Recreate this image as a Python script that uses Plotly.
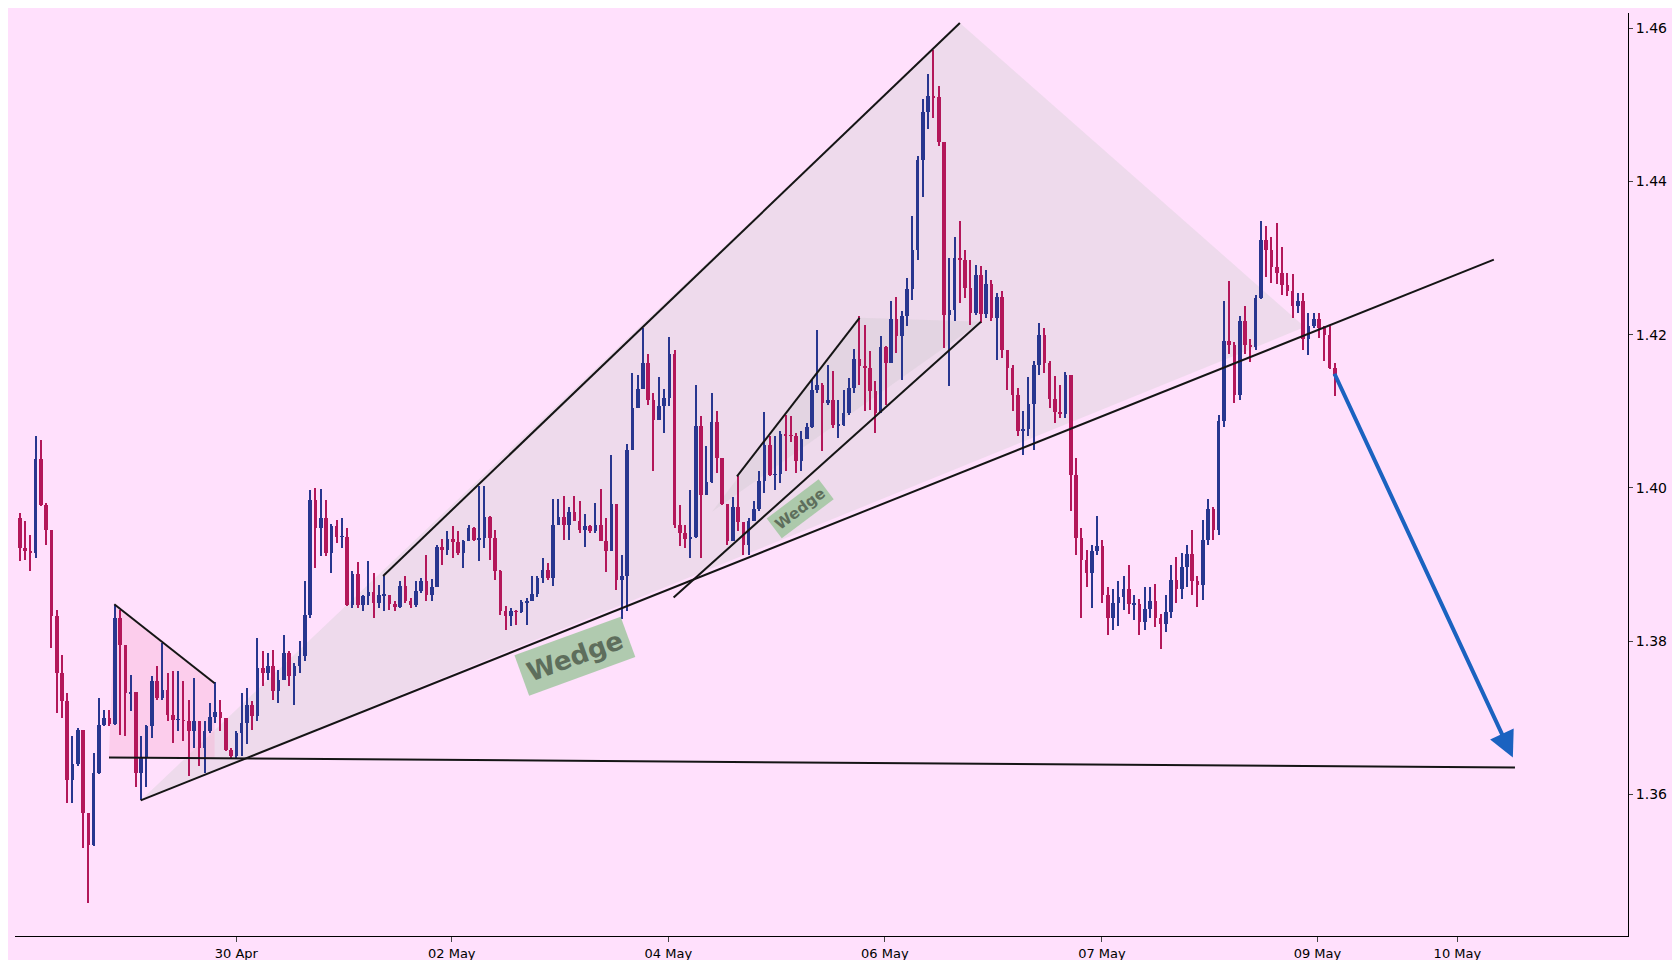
import plotly.graph_objects as go

# ------- candle data (one entry per bar) -------
first_open = 1.3961
closes = [
    1.3922, 1.3918, 1.3915, 1.4038, 1.3978, 1.3945, 1.3833, 1.3759, 1.3722, 1.3619,
    1.3639, 1.3684, 1.3576, 1.3534, 1.3628, 1.3691, 1.3700, 1.3692, 1.3830, 1.3795,
    1.3732, 1.3734, 1.3628, 1.3648, 1.3689, 1.3748, 1.3726, 1.3736, 1.3704, 1.3697,
    1.3697, 1.3696, 1.3683, 1.3696, 1.3661, 1.3683, 1.3701, 1.3708, 1.3700, 1.3658,
    1.3650, 1.3680, 1.3693, 1.3716, 1.3702, 1.3765, 1.3759, 1.3768, 1.3735, 1.3749,
    1.3785, 1.3755, 1.3768, 1.3781, 1.3834, 1.3984, 1.3948, 1.3961, 1.3915, 1.3950,
    1.3936, 1.3936, 1.3847, 1.3888, 1.3847, 1.3859, 1.3864, 1.3850, 1.3860, 1.3860,
    1.3849, 1.3845, 1.3872, 1.3853, 1.3847, 1.3866, 1.3879, 1.3860, 1.3871, 1.3923,
    1.3919, 1.3933, 1.3930, 1.3915, 1.3931, 1.3948, 1.3932, 1.3935, 1.3962, 1.3935,
    1.3892, 1.3839, 1.3833, 1.3839, 1.3838, 1.3851, 1.3853, 1.3862, 1.3883, 1.3893,
    1.3883, 1.3952, 1.3962, 1.3952, 1.3969, 1.3957, 1.3945, 1.3950, 1.3944, 1.3952,
    1.3931, 1.3918, 1.3979, 1.3880, 1.3885, 1.4050, 1.4104, 1.4129, 1.4163, 1.4115,
    1.4089, 1.4107, 1.4117, 1.4175, 1.3952, 1.3941, 1.3933, 1.3936, 1.4081, 1.3991,
    1.4008, 1.4086, 1.4039, 1.3979, 1.3931, 1.3975, 1.3956, 1.3926, 1.3957, 1.3973,
    1.4009, 1.4056, 1.4017, 1.4018, 1.4070, 1.4069, 1.4068, 1.4035, 1.4064, 1.4080,
    1.4128, 1.4134, 1.4111, 1.4115, 1.4082, 1.4082, 1.4098, 1.4131, 1.4168, 1.4159,
    1.4157, 1.4127, 1.4098, 1.4184, 1.4163, 1.4221, 1.4198, 1.4224, 1.4260, 1.4311,
    1.4428, 1.4491, 1.4512, 1.4510, 1.4452, 1.4226, 1.4232, 1.4300, 1.4298, 1.4261,
    1.4228, 1.4278, 1.4227, 1.4266, 1.4222, 1.4249, 1.4180, 1.4157, 1.4121, 1.4074,
    1.4077, 1.4110, 1.4161, 1.4200, 1.4163, 1.4116, 1.4099, 1.4097, 1.4147, 1.4017,
    1.3935, 1.3906, 1.3889, 1.3918, 1.3924, 1.3860, 1.3830, 1.3850, 1.3858, 1.3868,
    1.3848, 1.3848, 1.3825, 1.3842, 1.3852, 1.3830, 1.3822, 1.3838, 1.3880, 1.3868,
    1.3897, 1.3914, 1.3879, 1.3873, 1.3932, 1.3973, 1.3945, 1.4087, 1.4192, 1.4187,
    1.4121, 1.4218, 1.4187, 1.4184, 1.4248, 1.4324, 1.4310, 1.4289, 1.4281, 1.4265,
    1.4257, 1.4238, 1.4244, 1.4194, 1.4211, 1.4220, 1.4209, 1.4200, 1.4157, 1.4146,
]
highs = [
    1.3967, 1.3957, 1.3939, 1.4068, 1.4063, 1.3980, 1.3945, 1.3841, 1.3782, 1.3732,
    1.3676, 1.3687, 1.3683, 1.3576, 1.3654, 1.3726, 1.3710, 1.3710, 1.3847, 1.3841,
    1.3795, 1.3756, 1.3734, 1.3676, 1.3691, 1.3755, 1.3768, 1.3798, 1.3759, 1.3761,
    1.3761, 1.3748, 1.3723, 1.3752, 1.3696, 1.3696, 1.3719, 1.3746, 1.3723, 1.3700,
    1.3661, 1.3683, 1.3732, 1.3739, 1.3722, 1.3804, 1.3787, 1.3785, 1.3789, 1.3762,
    1.3808, 1.3787, 1.3771, 1.3800, 1.3879, 1.3997, 1.4000, 1.3999, 1.3984, 1.3953,
    1.3958, 1.3961, 1.3948, 1.3892, 1.3903, 1.3860, 1.3905, 1.3889, 1.3873, 1.3885,
    1.3860, 1.3853, 1.3879, 1.3885, 1.3856, 1.3879, 1.3883, 1.3913, 1.3881, 1.3926,
    1.3933, 1.3944, 1.3950, 1.3944, 1.3932, 1.3952, 1.3949, 1.4003, 1.4003, 1.3963,
    1.3945, 1.3893, 1.3846, 1.3843, 1.3841, 1.3854, 1.3856, 1.3885, 1.3885, 1.3909,
    1.3902, 1.3986, 1.3986, 1.3990, 1.3975, 1.3990, 1.3983, 1.3966, 1.3952, 1.3980,
    1.3999, 1.3961, 1.4043, 1.3979, 1.3913, 1.4057, 1.4150, 1.4147, 1.4209, 1.4175,
    1.4124, 1.4145, 1.4129, 1.4197, 1.4180, 1.3978, 1.3952, 1.3997, 1.4134, 1.4094,
    1.4055, 1.4124, 1.4100, 1.4039, 1.3979, 1.3988, 1.4016, 1.3956, 1.3961, 1.3983,
    1.4022, 1.4099, 1.4068, 1.4068, 1.4074, 1.4095, 1.4094, 1.4072, 1.4074, 1.4085,
    1.4141, 1.4206, 1.4137, 1.4161, 1.4153, 1.4115, 1.4128, 1.4144, 1.4181, 1.4224,
    1.4213, 1.4179, 1.4140, 1.4198, 1.4185, 1.4244, 1.4249, 1.4231, 1.4274, 1.4355,
    1.4433, 1.4508, 1.4540, 1.4572, 1.4525, 1.4452, 1.4300, 1.4328, 1.4348, 1.4311,
    1.4298, 1.4291, 1.4290, 1.4285, 1.4271, 1.4254, 1.4257, 1.4180, 1.4161, 1.4131,
    1.4100, 1.4145, 1.4166, 1.4215, 1.4209, 1.4166, 1.4146, 1.4134, 1.4151, 1.4147,
    1.4039, 1.3948, 1.3919, 1.3925, 1.3963, 1.3932, 1.3870, 1.3868, 1.3878, 1.3885,
    1.3900, 1.3860, 1.3855, 1.3870, 1.3870, 1.3875, 1.3835, 1.3860, 1.3900, 1.3910,
    1.3915, 1.3925, 1.3945, 1.3885, 1.3958, 1.3985, 1.3975, 1.4095, 1.4244, 1.4270,
    1.4190, 1.4225, 1.4238, 1.4195, 1.4252, 1.4349, 1.4342, 1.4327, 1.4346, 1.4314,
    1.4281, 1.4279, 1.4254, 1.4254, 1.4228, 1.4228, 1.4228, 1.4211, 1.4211, 1.4163,
]
lows = [
    1.3905, 1.3906, 1.3892, 1.3908, 1.3976, 1.3926, 1.3791, 1.3706, 1.3700, 1.3589,
    1.3589, 1.3637, 1.3530, 1.3458, 1.3533, 1.3626, 1.3689, 1.3689, 1.3691, 1.3678,
    1.3676, 1.3709, 1.3609, 1.3593, 1.3609, 1.3674, 1.3723, 1.3723, 1.3696, 1.3667,
    1.3683, 1.3670, 1.3624, 1.3661, 1.3637, 1.3628, 1.3680, 1.3693, 1.3683, 1.3657,
    1.3648, 1.3648, 1.3650, 1.3666, 1.3684, 1.3696, 1.3742, 1.3749, 1.3723, 1.3719,
    1.3749, 1.3742, 1.3716, 1.3759, 1.3774, 1.3830, 1.3896, 1.3911, 1.3911, 1.3889,
    1.3928, 1.3922, 1.3846, 1.3843, 1.3843, 1.3839, 1.3847, 1.3830, 1.3843, 1.3839,
    1.3841, 1.3839, 1.3843, 1.3850, 1.3843, 1.3845, 1.3863, 1.3853, 1.3853, 1.3871,
    1.3900, 1.3913, 1.3909, 1.3913, 1.3896, 1.3931, 1.3931, 1.3905, 1.3922, 1.3906,
    1.3880, 1.3834, 1.3815, 1.3820, 1.3821, 1.3837, 1.3821, 1.3853, 1.3858, 1.3876,
    1.3880, 1.3872, 1.3952, 1.3932, 1.3932, 1.3957, 1.3941, 1.3923, 1.3941, 1.3941,
    1.3931, 1.3890, 1.3918, 1.3867, 1.3829, 1.3839, 1.4050, 1.4104, 1.4129, 1.4108,
    1.4022, 1.4089, 1.4072, 1.4107, 1.3948, 1.3924, 1.3922, 1.3909, 1.3935, 1.3909,
    1.3991, 1.4007, 1.4020, 1.3978, 1.3926, 1.3931, 1.3944, 1.3913, 1.3913, 1.3957,
    1.3970, 1.3993, 1.4016, 1.3997, 1.4007, 1.4022, 1.4060, 1.4020, 1.4022, 1.4065,
    1.4078, 1.4124, 1.4048, 1.4108, 1.4078, 1.4065, 1.4081, 1.4095, 1.4124, 1.4134,
    1.4100, 1.4102, 1.4072, 1.4111, 1.4108, 1.4163, 1.4176, 1.4141, 1.4211, 1.4245,
    1.4298, 1.4380, 1.4468, 1.4483, 1.4446, 1.4183, 1.4133, 1.4218, 1.4241, 1.4248,
    1.4213, 1.4226, 1.4215, 1.4222, 1.4218, 1.4167, 1.4170, 1.4128, 1.4100, 1.4068,
    1.4043, 1.4068, 1.4050, 1.4147, 1.4150, 1.4104, 1.4085, 1.4091, 1.4091, 1.3970,
    1.3913, 1.3830, 1.3870, 1.3843, 1.3913, 1.3850, 1.3808, 1.3815, 1.3820, 1.3840,
    1.3835, 1.3828, 1.3808, 1.3815, 1.3830, 1.3818, 1.3790, 1.3812, 1.3830, 1.3850,
    1.3855, 1.3870, 1.3860, 1.3845, 1.3854, 1.3925, 1.3932, 1.3938, 1.4080, 1.4175,
    1.4111, 1.4115, 1.4175, 1.4165, 1.4180, 1.4246, 1.4276, 1.4268, 1.4266, 1.4252,
    1.4250, 1.4222, 1.4228, 1.4180, 1.4174, 1.4209, 1.4196, 1.4166, 1.4155, 1.4120,
]

# date ticks (bar position -> label)
tick_pos = [41.0, 81.8, 122.8, 163.8, 204.9, 245.7, 272.2]
tick_text = ["30 Apr", "02 May", "04 May", "06 May", "07 May", "09 May", "10 May"]
price_ticks = [1.36, 1.38, 1.40, 1.42, 1.44, 1.46]

# drawn pattern points: (bar position, price)
flag_x = [17.9, 36.9, 36.9, 16.9]
flag_y = [1.3848, 1.3745, 1.3648, 1.3648]
big_x = [22.9, 178.0, 243.3]
big_y = [1.3592, 1.4607, 1.4210]
small_x = [131.1, 159.0, 182.0]
small_y = [1.3969, 1.4222, 1.4217]
lines = [
    (68.8, 1.3885, 178.0, 1.4607),   # wedge top
    (22.9, 1.3592, 279.1, 1.4298),   # wedge bottom
    (135.8, 1.4015, 159.0, 1.4222),  # small wedge top
    (123.8, 1.3857, 182.0, 1.4217),  # small wedge bottom
    (17.9, 1.3848, 36.9, 1.3745),    # flag top
    (16.9, 1.3648, 283.1, 1.3635),   # horizontal target
]
arrow_from = (248.8, 1.4151)
arrow_to = (282.7, 1.3648)

opens = [first_open] + closes[:-1]
highs = [max(h, o, c) for h, o, c in zip(highs, opens, closes)]
lows = [min(l, o, c) for l, o, c in zip(lows, opens, closes)]

UP = "#28368f"
DOWN = "#b3175a"


def poly_path(xs, ys):
    pts = [f"{x},{y}" for x, y in zip(xs, ys)]
    return "M " + " L ".join(pts) + " Z"


fig = go.Figure()

# pattern fills go below the candles
for xs, ys, col in [(big_x, big_y, "rgba(205,205,205,0.35)"),
                    (small_x, small_y, "rgba(190,190,190,0.22)"),
                    (flag_x, flag_y, "rgba(245,170,205,0.35)")]:
    fig.add_shape(type="path", path=poly_path(xs, ys), xref="x", yref="y",
                  fillcolor=col, line=dict(width=0), layer="below")

# candles as bars: thin wick + wider body, split by direction
for up, color in [(True, UP), (False, DOWN)]:
    idx = [i for i in range(len(closes)) if (closes[i] >= opens[i]) == up]
    fig.add_trace(go.Bar(
        x=idx, base=[lows[i] for i in idx],
        y=[highs[i] - lows[i] for i in idx],
        width=0.22, marker=dict(color=color, line=dict(width=0)), hoverinfo="skip"))
    fig.add_trace(go.Bar(
        x=idx, base=[min(opens[i], closes[i]) for i in idx],
        y=[max(abs(closes[i] - opens[i]), 0.00008) for i in idx],
        width=0.68, marker=dict(color=color, line=dict(width=0)),
        customdata=[[opens[i], highs[i], lows[i], closes[i]] for i in idx],
        hovertemplate="O %{customdata[0]}<br>H %{customdata[1]}<br>L %{customdata[2]}<br>C %{customdata[3]}<extra></extra>"))

for x0, y0, x1, y1 in lines:
    fig.add_shape(type="line", x0=x0, y0=y0, x1=x1, y1=y1,
                  line=dict(color="#151515", width=2))

# forecast arrow
fig.add_annotation(x=arrow_to[0], y=arrow_to[1], ax=arrow_from[0], ay=arrow_from[1],
                   xref="x", yref="y", axref="x", ayref="y", text="", showarrow=True,
                   arrowhead=2, arrowsize=1.3, arrowwidth=4, arrowcolor="#1b62c0")

# pattern labels
fig.add_annotation(x=105.2, y=1.3780, text="<b>Wedge</b>", showarrow=False, textangle=-20,
                   font=dict(family="DejaVu Sans", size=26, color="#5e6e5c"),
                   bgcolor="rgba(150,195,150,0.75)", borderpad=6)
fig.add_annotation(x=147.7, y=1.3973, text="<b>Wedge</b>", showarrow=False, textangle=-37,
                   font=dict(family="DejaVu Sans", size=15, color="#5e6e5c"),
                   bgcolor="rgba(150,195,150,0.75)", borderpad=3)

fig.update_layout(
    width=1680, height=960,
    paper_bgcolor="#ffe0fc", plot_bgcolor="#ffe0fc",
    margin=dict(l=7, r=60, t=5, b=32),
    font=dict(family="DejaVu Sans", color="black"),
    showlegend=False, barmode="overlay", bargap=0,
)
fig.update_xaxes(range=[-0.9, 304.5], showgrid=False, zeroline=False,
                 showline=True, linecolor="black", linewidth=1, ticks="outside", ticklen=5,
                 tickvals=tick_pos, ticktext=tick_text, tickfont=dict(size=13))
fig.update_yaxes(range=[1.3415, 1.462], side="right", showgrid=False, zeroline=False,
                 showline=True, linecolor="black", linewidth=1, ticks="outside", ticklen=4,
                 tickvals=price_ticks, ticktext=[f"{v:.2f}" for v in price_ticks],
                 tickfont=dict(size=14), automargin=False)

fig.write_html("out.html")
